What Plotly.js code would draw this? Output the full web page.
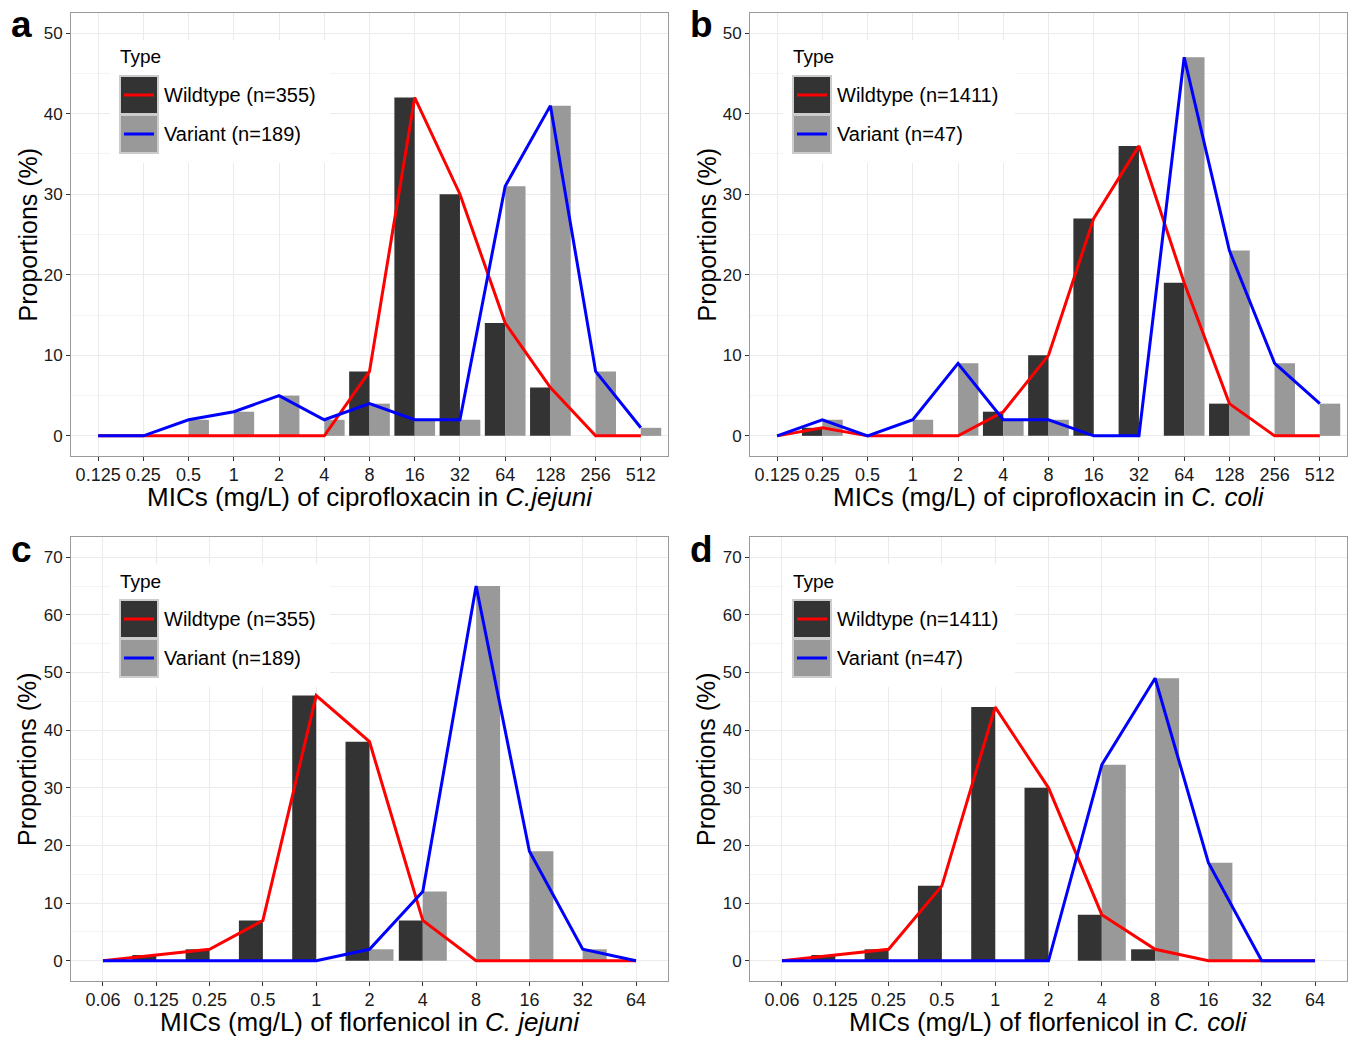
<!DOCTYPE html>
<html>
<head>
<meta charset="utf-8">
<script src="https://cdn.plot.ly/plotly-3.0.1.min.js"></script>
<style>html,body{margin:0;padding:0;background:#fff;}#chart{width:1355px;height:1038px;}</style>
</head>
<body>
<div id="chart"></div>
<script>
// ---------- DATA ----------
const ciproMIC = ['0.125','0.25','0.5','1','2','4','8','16','32','64','128','256','512'];
const florMIC  = ['0.06','0.125','0.25','0.5','1','2','4','8','16','32','64'];

const jejuniCiproWild = [0,0,0,0,0,0,8,42,30,14,6,0,0];
const jejuniCiproVar  = [0,0,2,3,5,2,4,2,2,31,41,8,1];
const coliCiproWild   = [0,1,0,0,0,3,10,27,36,19,4,0,0];
const coliCiproVar    = [0,2,0,2,9,2,2,0,0,47,23,9,4];
const jejuniFlorWild  = [0,1,2,7,46,38,7,0,0,0,0];
const jejuniFlorVar   = [0,0,0,0,0,2,12,65,19,2,0];
const coliFlorWild    = [0,1,2,13,44,30,8,2,0,0,0];
const coliFlorVar     = [0,0,0,0,0,0,34,49,17,0,0];

const jejuniLabels = ['Wildtype (n=355)','Variant (n=189)'];
const coliLabels   = ['Wildtype (n=1411)','Variant (n=47)'];
const xTitles = [
  'MICs (mg/L) of ciprofloxacin in <i>C.jejuni</i>',
  'MICs (mg/L) of ciprofloxacin in <i>C. coli</i>',
  'MICs (mg/L) of florfenicol in <i>C. jejuni</i>',
  'MICs (mg/L) of florfenicol in <i>C. coli</i>'
];
const yTitle = 'Proportions (%)';
const panelLetters = ['a','b','c','d'];
const yMax = [50,50,70,70];

// ---------- LAYOUT HELPERS ----------
const W = 1355, H = 1038;
const px = x => x / W;
const py = y => 1 - y / H;
const FONT = 'Liberation Sans, Arial, Helvetica, sans-serif';

const panels = [
  {cats: ciproMIC, wild: jejuniCiproWild, vari: jejuniCiproVar, labels: jejuniLabels, L:71,  R:668,  T:13,  B:456, legX:120, legBgR:330},
  {cats: ciproMIC, wild: coliCiproWild,   vari: coliCiproVar,   labels: coliLabels,   L:750, R:1347, T:13,  B:456, legX:793, legBgR:1015},
  {cats: florMIC,  wild: jejuniFlorWild,  vari: jejuniFlorVar,  labels: jejuniLabels, L:71,  R:668,  T:537, B:981, legX:120, legBgR:330},
  {cats: florMIC,  wild: coliFlorWild,    vari: coliFlorVar,    labels: coliLabels,   L:750, R:1347, T:537, B:981, legX:793, legBgR:1015}
];

const traces = [];
const layout = {
  width: W, height: H,
  margin: {l:0, r:0, t:0, b:0},
  paper_bgcolor: '#ffffff', plot_bgcolor: '#ffffff',
  barmode: 'group', bargap: 0.1, bargroupgap: 0,
  showlegend: false,
  font: {family: FONT, color: '#000'},
  annotations: [], shapes: []
};

panels.forEach((p, i) => {
  const k = i === 0 ? '' : String(i + 1);
  const xa = 'x' + k, ya = 'y' + k;
  traces.push({type:'bar', x:p.cats, y:p.wild, xaxis:xa, yaxis:ya, name:'Wildtype',
    marker:{color:'#333333', line:{width:0}}, hoverinfo:'x+y'});
  traces.push({type:'bar', x:p.cats, y:p.vari, xaxis:xa, yaxis:ya, name:'Variant',
    marker:{color:'#999999', line:{width:0}}, hoverinfo:'x+y'});
  traces.push({type:'scatter', mode:'lines', x:p.cats, y:p.wild, xaxis:xa, yaxis:ya, name:'Wildtype',
    line:{color:'#ff0000', width:3}, hoverinfo:'x+y'});
  traces.push({type:'scatter', mode:'lines', x:p.cats, y:p.vari, xaxis:xa, yaxis:ya, name:'Variant',
    line:{color:'#0000ff', width:3}, hoverinfo:'x+y'});

  layout['xaxis' + k] = {
    domain: [px(p.L), px(p.R)], anchor: ya,
    type: 'category', categoryorder: 'array', categoryarray: p.cats,
    range: [-0.6, p.cats.length - 0.4],
    showline: true, mirror: true, linecolor: '#9a9a9a', linewidth: 1,
    ticks: 'outside', ticklen: 4, tickwidth: 1, tickcolor: '#333333',
    ticklabelstandoff: -2,
    showgrid: true, gridcolor: '#ebebeb', gridwidth: 1, zeroline: false,
    tickfont: {family: FONT, size: 18, color: '#1a1a1a'}, fixedrange: true
  };
  const m = yMax[i];
  layout['yaxis' + k] = {
    domain: [py(p.B), py(p.T)], anchor: xa,
    range: [-0.05 * m, 1.05 * m], tick0: 0, dtick: 10,
    showline: true, mirror: true, linecolor: '#9a9a9a', linewidth: 1,
    ticks: 'outside', ticklen: 4, tickwidth: 1, tickcolor: '#333333',
    showgrid: true, gridcolor: '#ebebeb', gridwidth: 1, zeroline: false,
    minor: {dtick: 5, tick0: 0, showgrid: true, gridcolor: '#f4f4f4', gridwidth: 1},
    tickfont: {family: FONT, size: 17, color: '#1a1a1a'}, fixedrange: true
  };

  // axis titles
  layout.annotations.push({text: xTitles[i], xref:'paper', yref:'paper',
    x: px((p.L + p.R) / 2), y: py(p.B + 41), xanchor:'center', yanchor:'middle',
    showarrow:false, font:{family: FONT, size: 26, color:'#000'}});
  layout.annotations.push({text: yTitle, xref:'paper', yref:'paper', textangle:-90,
    x: px(p.L - 44), y: py((p.T + p.B) / 2), xanchor:'center', yanchor:'middle',
    showarrow:false, font:{family: FONT, size: 25, color:'#000'}});
  // panel letter
  layout.annotations.push({text: '<b>' + panelLetters[i] + '</b>', xref:'paper', yref:'paper',
    x: px(p.L - 49), y: py(p.T + 12), xanchor:'center', yanchor:'middle',
    showarrow:false, font:{family: FONT, size: 37, color:'#000'}});

  // custom ggplot-like legend
  const lx = p.legX, ty = p.T + 44;
  layout.shapes.push({type:'rect', xref:'paper', yref:'paper', layer:'above',
    x0: px(lx - 10), x1: px(p.legBgR), y0: py(p.T + 27), y1: py(p.T + 150),
    fillcolor:'#ffffff', line:{width:0}});
  layout.annotations.push({text:'Type', xref:'paper', yref:'paper', x: px(lx - 2), y: py(ty),
    xanchor:'left', yanchor:'middle', showarrow:false, font:{family: FONT, size: 19, color:'#000'}});
  const fills = ['#333333', '#999999'], lcols = ['#ff0000', '#0000ff'];
  for (let j = 0; j < 2; j++) {
    const top = p.T + 63 + j * 39;
    layout.shapes.push({type:'rect', xref:'paper', yref:'paper', layer:'above',
      x0: px(lx), x1: px(lx + 38), y0: py(top), y1: py(top + 38),
      fillcolor: fills[j], line:{color:'#cccccc', width:2}});
    layout.shapes.push({type:'line', xref:'paper', yref:'paper', layer:'above',
      x0: px(lx + 4), x1: px(lx + 34), y0: py(top + 19), y1: py(top + 19),
      line:{color: lcols[j], width:3}});
    layout.annotations.push({text: p.labels[j], xref:'paper', yref:'paper',
      x: px(lx + 42), y: py(top + 19), xanchor:'left', yanchor:'middle',
      showarrow:false, font:{family: FONT, size: 20, color:'#000'}});
  }
});

Plotly.newPlot('chart', traces, layout, {displayModeBar:false, staticPlot:true});
</script>
</body>
</html>
